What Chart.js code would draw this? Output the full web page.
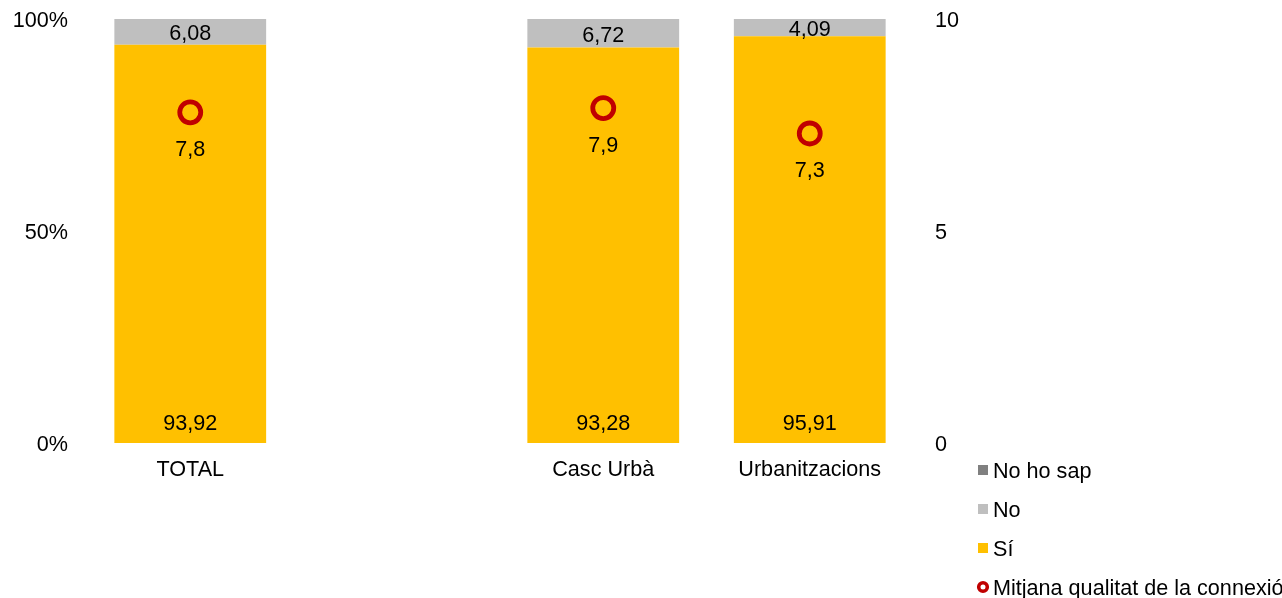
<!DOCTYPE html>
<html>
<head>
<meta charset="utf-8">
<script src="https://cdn.jsdelivr.net/npm/chart.js@4"></script>
<style>
html,body{margin:0;padding:0;background:#fff;overflow:hidden;}
#wrap{width:1282px;height:598px;position:relative;}
</style>
</head>
<body>
<div id="wrap"><canvas id="c" width="1282" height="598"></canvas></div>
<script>
const categories = ['TOTAL', '', 'Casc Urbà', 'Urbanitzacions'];
const siValues = [93.92, null, 93.28, 95.91];
const noValues = [6.08, null, 6.72, 4.09];
const noHoSapValues = [0, null, 0, 0];
const meanValues = [7.8, null, 7.9, 7.3];
const leftTicks = [0, 50, 100];
const rightTicks = [0, 5, 10];
const seriesNames = ['No ho sap', 'No', 'Sí', 'Mitjana qualitat de la connexió'];

const FONT = '"Liberation Sans", Arial, sans-serif';
const FS = 21.6;
const C_SI = '#FFC000', C_NO = '#BFBFBF', C_NHS = '#808080', C_MEAN = '#C00000';

const fmt = (v, d) => v.toFixed(d).replace('.', ',');

const labelPlugin = {
  id: 'labels',
  afterDatasetsDraw(chart) {
    const ctx = chart.ctx;
    ctx.save();
    ctx.font = FS + 'px ' + FONT;
    ctx.fillStyle = '#000';
    ctx.textAlign = 'center';
    ctx.textBaseline = 'middle';
    const meta0 = chart.getDatasetMeta(0);
    const meta1 = chart.getDatasetMeta(1);
    const meta3 = chart.getDatasetMeta(3);
    meta0.data.forEach((bar, i) => {
      if (siValues[i] == null) return;
      ctx.fillText(fmt(siValues[i], 2), bar.x, bar.base - 19);
    });
    meta1.data.forEach((bar, i) => {
      if (noValues[i] == null) return;
      ctx.fillText(fmt(noValues[i], 2), bar.x, (bar.y + bar.base) / 2 + 2.5);
    });
    meta3.data.forEach((pt, i) => {
      if (meanValues[i] == null) return;
      ctx.fillText(fmt(meanValues[i], 1), pt.x, pt.y + 38);
    });
    ctx.restore();
  }
};

const legendPlugin = {
  id: 'customLegend',
  afterDraw(chart) {
    const ctx = chart.ctx;
    ctx.save();
    ctx.font = FS + 'px ' + FONT;
    ctx.textAlign = 'left';
    ctx.textBaseline = 'middle';
    const colors = [C_NHS, C_NO, C_SI, C_MEAN];
    const x0 = 978, tx = 993, y0 = 470, dy = 39;
    seriesNames.forEach((name, i) => {
      const y = y0 + i * dy;
      if (i < 3) {
        ctx.fillStyle = colors[i];
        ctx.fillRect(x0, y - 5, 10, 10);
      } else {
        ctx.beginPath();
        ctx.arc(x0 + 5, y, 4.3, 0, Math.PI * 2);
        ctx.fillStyle = '#fff';
        ctx.fill();
        ctx.lineWidth = 3.6;
        ctx.strokeStyle = C_MEAN;
        ctx.stroke();
      }
      ctx.fillStyle = '#000';
      ctx.fillText(name, tx, y + 2);
    });
    ctx.restore();
  }
};

function noPad(s) { s.paddingTop = 0; s.paddingBottom = 0; }

new Chart(document.getElementById('c'), {
  data: {
    labels: categories,
    datasets: [
      { type: 'bar', label: 'Sí', data: siValues, backgroundColor: C_SI, yAxisID: 'y', order: 1,
        categoryPercentage: 1, barPercentage: 0.735, borderWidth: 0 },
      { type: 'bar', label: 'No', data: noValues, backgroundColor: C_NO, yAxisID: 'y', order: 1,
        categoryPercentage: 1, barPercentage: 0.735, borderWidth: 0 },
      { type: 'bar', label: 'No ho sap', data: noHoSapValues, backgroundColor: C_NHS, yAxisID: 'y', order: 1,
        categoryPercentage: 1, barPercentage: 0.735, borderWidth: 0 },
      { type: 'line', label: 'Mitjana qualitat de la connexió', data: meanValues, yAxisID: 'y1', order: 0,
        showLine: false, pointRadius: 10.5, pointBorderWidth: 4.8, pointBorderColor: C_MEAN,
        pointBackgroundColor: 'rgba(0,0,0,0)', pointHoverRadius: 10.5 }
    ]
  },
  options: {
    responsive: false,
    animation: false,
    events: [],
    layout: { padding: { top: 19, left: 0, right: 0, bottom: 0 } },
    plugins: { legend: { display: false }, tooltip: { enabled: false } },
    scales: {
      x: {
        stacked: true,
        grid: { display: false, drawTicks: false },
        border: { display: false },
        ticks: { font: { family: FONT, size: FS }, color: '#000', padding: 14, maxRotation: 0, autoSkip: false },
        afterFit(s) { s.height = 598 - 443; s.paddingLeft = 0; s.paddingRight = 0; }
      },
      y: {
        position: 'left', stacked: true, min: 0, max: 100,
        grid: { display: false, drawTicks: false },
        border: { display: false },
        afterBuildTicks(s) { s.ticks = leftTicks.map(v => ({ value: v })); },
        ticks: { font: { family: FONT, size: FS }, color: '#000', padding: 19, labelOffset: 2, callback: v => v + '%' },
        afterFit(s) { s.width = 87; noPad(s); }
      },
      y1: {
        position: 'right', min: 0, max: 10,
        grid: { display: false, drawTicks: false },
        border: { display: false },
        afterBuildTicks(s) { s.ticks = rightTicks.map(v => ({ value: v })); },
        ticks: { font: { family: FONT, size: FS }, color: '#000', padding: 22, labelOffset: 2 },
        afterFit(s) { s.width = 1282 - 913; noPad(s); }
      }
    }
  },
  plugins: [labelPlugin, legendPlugin]
});
</script>
</body>
</html>
